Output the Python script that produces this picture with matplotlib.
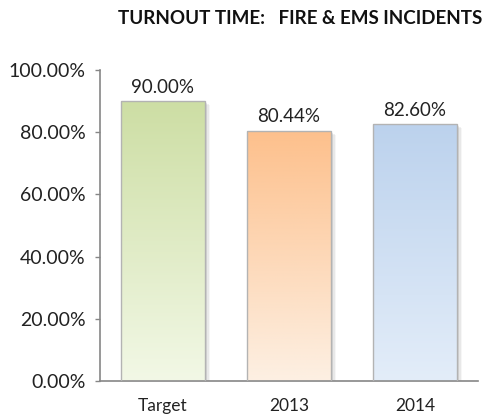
import matplotlib.pyplot as plt
import numpy as np
from matplotlib.colors import LinearSegmentedColormap
from matplotlib.patches import Rectangle
from matplotlib.ticker import FuncFormatter
import matplotlib.transforms as mtransforms

plt.rcParams['font.family'] = ['Lato', 'DejaVu Sans']

categories = ['Target', '2013', '2014']
values = [90.00, 80.44, 82.60]
top_colors = ['#cddea4', '#fdc08c', '#bcd2ed']
bottom_colors = ['#f2f8e6', '#fdf0e3', '#e3edf9']

fig = plt.figure(figsize=(4.84, 4.19), dpi=100)
ax = fig.add_axes([100 / 484, 38 / 419, 378 / 484, 311 / 419])

width = 0.66
for i, (v, c1, c2) in enumerate(zip(values, top_colors, bottom_colors)):
    x0 = i - width / 2
    # soft shadow on the right
    for k, a in enumerate([0.16, 0.10, 0.07, 0.04]):
        sh = mtransforms.offset_copy(ax.transData, fig=fig, x=1.5 + k * 1.3, y=-1 - k, units='dots')
        ax.add_patch(Rectangle((x0, 0), width, v, facecolor='#303030', edgecolor='none',
                               alpha=a, transform=sh, zorder=1))
    cmap = LinearSegmentedColormap.from_list('g%d' % i, [c2, c1])
    grad = np.linspace(0, 1, 256).reshape(-1, 1)
    im = ax.imshow(grad, cmap=cmap, aspect='auto', origin='lower',
                   extent=[x0, x0 + width, 0, v], zorder=2)
    rect = Rectangle((x0, 0), width, v, facecolor='none', edgecolor='#b3b3b3', linewidth=1, zorder=3)
    ax.add_patch(rect)
    im.set_clip_path(rect)
    ax.annotate('%.2f%%' % v, (i, v), xytext=(0, 4), textcoords='offset points',
                ha='center', va='bottom', fontsize=13.5, color='#222222', zorder=4)

ax.set_xlim(-0.5, 2.5)
ax.set_ylim(0, 100)
ax.set_yticks([0, 20, 40, 60, 80, 100])
ax.yaxis.set_major_formatter(FuncFormatter(lambda y, p: '%.2f%%' % y))
ax.set_xticks(range(len(categories)))
ax.set_xticklabels(categories)
ax.tick_params(axis='x', length=0, pad=12, labelsize=12.5, colors='#222222')
ax.tick_params(axis='y', length=3.5, width=1, color='#868686', labelsize=14,
               labelcolor='#222222', pad=7)
for s in ['top', 'right']:
    ax.spines[s].set_visible(False)
for s in ['left', 'bottom']:
    ax.spines[s].set_color('#868686')
    ax.spines[s].set_linewidth(1.2)

fig.text(300 / 484, 1 - 18 / 419, 'TURNOUT TIME:   FIRE & EMS INCIDENTS', ha='center', va='center',
         fontsize=13.5, fontweight='bold', color='#111111')

fig.savefig('out.png', dpi=100)
